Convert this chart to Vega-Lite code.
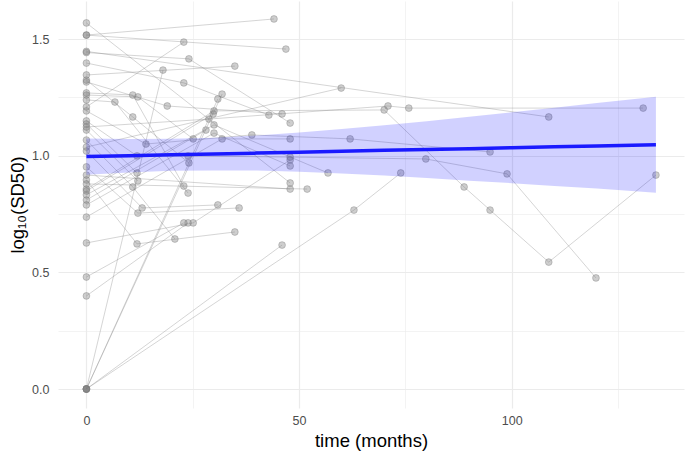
{
  "$schema": "https://vega.github.io/schema/vega-lite/v6.json",
  "width": 626,
  "height": 407,
  "autosize": {"type": "none"},
  "padding": {"left": 58, "top": 1, "right": 1, "bottom": 43},
  "background": "white",
  "config": {
    "view": {"stroke": null},
    "font": "Liberation Sans",
    "axis": {
      "domain": false,
      "ticks": false,
      "tickSize": 0,
      "labelFont": "Liberation Sans",
      "labelFontSize": 12.5,
      "labelColor": "#4d4d4d",
      "titleFont": "Liberation Sans",
      "titleFontSize": 18.5,
      "titleFontWeight": "normal",
      "titleColor": "#000000",
      "gridColor": "#ebebeb"
    }
  },
  "datasets": {
    "obs": [
      {"id": 1, "t": 0, "y": 1.569}, {"id": 1, "t": 47.9, "y": 0.883},
      {"id": 2, "t": 0, "y": 1.517}, {"id": 2, "t": 44.1, "y": 1.586},
      {"id": 3, "t": 0, "y": 1.517}, {"id": 3, "t": 46.9, "y": 1.457},
      {"id": 4, "t": 0, "y": 1.447}, {"id": 4, "t": 108.7, "y": 1.166},
      {"id": 5, "t": 0, "y": 1.442}, {"id": 5, "t": 24.1, "y": 1.415}, {"id": 5, "t": 47.9, "y": 1.14},
      {"id": 6, "t": 0, "y": 1.397}, {"id": 6, "t": 22.9, "y": 1.312}, {"id": 6, "t": 42.9, "y": 1.174},
      {"id": 7, "t": 0, "y": 1.346}, {"id": 7, "t": 34.9, "y": 1.384},
      {"id": 8, "t": 0, "y": 1.324}, {"id": 8, "t": 10.9, "y": 1.166}, {"id": 8, "t": 24.1, "y": 0.969},
      {"id": 9, "t": 0, "y": 1.316}, {"id": 9, "t": 19.0, "y": 1.213}, {"id": 9, "t": 46.0, "y": 1.179},
      {"id": 10, "t": 0, "y": 1.269}, {"id": 10, "t": 10.9, "y": 1.26}, {"id": 10, "t": 22.9, "y": 0.87},
      {"id": 11, "t": 0, "y": 1.26}, {"id": 11, "t": 12.1, "y": 1.252}, {"id": 11, "t": 25.1, "y": 1.072},
      {"id": 12, "t": 0, "y": 1.239}, {"id": 12, "t": 6.7, "y": 1.23}, {"id": 12, "t": 23.9, "y": 0.84},
      {"id": 13, "t": 0, "y": 1.209}, {"id": 13, "t": 22.9, "y": 1.487},
      {"id": 14, "t": 0, "y": 1.192}, {"id": 14, "t": 14.0, "y": 1.05}, {"id": 14, "t": 38.9, "y": 1.089}, {"id": 14, "t": 62.0, "y": 1.072}, {"id": 14, "t": 94.9, "y": 1.016},
      {"id": 15, "t": 0, "y": 1.149}, {"id": 15, "t": 11.9, "y": 0.999}, {"id": 15, "t": 23.9, "y": 0.999}, {"id": 15, "t": 47.9, "y": 0.994}, {"id": 15, "t": 79.8, "y": 0.986}, {"id": 15, "t": 98.9, "y": 0.922}, {"id": 15, "t": 119.8, "y": 0.476},
      {"id": 16, "t": 0, "y": 1.136}, {"id": 16, "t": 11.9, "y": 0.926},
      {"id": 17, "t": 0, "y": 1.123}, {"id": 17, "t": 28.8, "y": 1.157}, {"id": 17, "t": 70.9, "y": 1.213}, {"id": 17, "t": 75.8, "y": 1.204}, {"id": 17, "t": 130.9, "y": 1.204},
      {"id": 18, "t": 0, "y": 1.11}, {"id": 18, "t": 12.1, "y": 0.892},
      {"id": 19, "t": 0, "y": 1.067}, {"id": 19, "t": 10.9, "y": 0.866}, {"id": 19, "t": 20.8, "y": 0.643},
      {"id": 20, "t": 0, "y": 1.037}, {"id": 20, "t": 59.9, "y": 1.29},
      {"id": 21, "t": 0, "y": 1.02}, {"id": 21, "t": 13.1, "y": 0.776}, {"id": 21, "t": 30.9, "y": 0.789},
      {"id": 22, "t": 0, "y": 0.952}, {"id": 22, "t": 12.1, "y": 0.754}, {"id": 22, "t": 35.9, "y": 0.776},
      {"id": 23, "t": 0, "y": 0.917}, {"id": 23, "t": 47.9, "y": 0.857},
      {"id": 24, "t": 0, "y": 0.896}, {"id": 24, "t": 11.9, "y": 0.622}, {"id": 24, "t": 34.9, "y": 0.673},
      {"id": 25, "t": 0, "y": 0.879}, {"id": 25, "t": 51.9, "y": 0.857},
      {"id": 26, "t": 0, "y": 0.857}, {"id": 26, "t": 30.0, "y": 1.192}, {"id": 26, "t": 70.0, "y": 1.196}, {"id": 26, "t": 88.8, "y": 0.866}, {"id": 26, "t": 94.9, "y": 0.767}, {"id": 26, "t": 108.7, "y": 0.544}, {"id": 26, "t": 133.9, "y": 0.917},
      {"id": 27, "t": 0, "y": 0.849}, {"id": 27, "t": 29.8, "y": 1.179},
      {"id": 28, "t": 0, "y": 0.832}, {"id": 28, "t": 30.0, "y": 1.132}, {"id": 28, "t": 56.8, "y": 0.926},
      {"id": 29, "t": 0, "y": 0.81}, {"id": 29, "t": 28.1, "y": 1.11},
      {"id": 30, "t": 0, "y": 0.789}, {"id": 30, "t": 30.0, "y": 1.097}, {"id": 30, "t": 47.9, "y": 0.956},
      {"id": 31, "t": 0, "y": 0.737}, {"id": 31, "t": 31.9, "y": 1.072}, {"id": 31, "t": 47.9, "y": 1.072},
      {"id": 32, "t": 0, "y": 0.626}, {"id": 32, "t": 25.1, "y": 0.712}, {"id": 32, "t": 47.9, "y": 0.982},
      {"id": 33, "t": 0, "y": 0.48}, {"id": 33, "t": 22.9, "y": 0.712},
      {"id": 34, "t": 0, "y": 0.399}, {"id": 34, "t": 23.9, "y": 0.712},
      {"id": 35, "t": 0, "y": 0}, {"id": 35, "t": 18.0, "y": 1.367},
      {"id": 36, "t": 0, "y": 0}, {"id": 36, "t": 31.9, "y": 1.264},
      {"id": 37, "t": 0, "y": 0}, {"id": 37, "t": 30.9, "y": 1.243},
      {"id": 38, "t": 0, "y": 0}, {"id": 38, "t": 46.0, "y": 0.617},
      {"id": 39, "t": 0, "y": 0}, {"id": 39, "t": 62.9, "y": 0.767}, {"id": 39, "t": 73.9, "y": 0.926}
    ],
    "fit": [
      {"t": 0, "fit": 0.996, "lo": 0.918, "hi": 1.074},
      {"t": 10, "fit": 1.0, "lo": 0.928, "hi": 1.071},
      {"t": 20, "fit": 1.004, "lo": 0.935, "hi": 1.073},
      {"t": 30, "fit": 1.007, "lo": 0.937, "hi": 1.077},
      {"t": 40, "fit": 1.011, "lo": 0.936, "hi": 1.087},
      {"t": 50, "fit": 1.015, "lo": 0.931, "hi": 1.099},
      {"t": 60, "fit": 1.019, "lo": 0.924, "hi": 1.114},
      {"t": 70, "fit": 1.023, "lo": 0.915, "hi": 1.131},
      {"t": 80, "fit": 1.026, "lo": 0.904, "hi": 1.148},
      {"t": 90, "fit": 1.03, "lo": 0.893, "hi": 1.167},
      {"t": 100, "fit": 1.034, "lo": 0.882, "hi": 1.186},
      {"t": 110, "fit": 1.038, "lo": 0.87, "hi": 1.206},
      {"t": 120, "fit": 1.042, "lo": 0.859, "hi": 1.226},
      {"t": 133.9, "fit": 1.047, "lo": 0.841, "hi": 1.253}
    ]
  },
  "encoding": {
    "x": {
      "field": "t",
      "type": "quantitative",
      "title": "time (months)",
      "scale": {"domain": [-6.68, 140.5], "nice": false, "zero": false},
      "axis": {
        "values": [0, 25, 50, 75, 100, 125],
        "labelExpr": "datum.value % 50 === 0 ? datum.label : ''",
        "gridWidth": {"condition": {"test": "datum.value % 50 === 0", "value": 1.2}, "value": 0.6},
        "labelPadding": 6,
        "titlePadding": 5
      }
    }
  },
  "layer": [
    {
      "data": {"name": "obs"},
      "mark": {"type": "line", "stroke": "#808080", "strokeOpacity": 0.42, "strokeWidth": 0.8},
      "encoding": {
        "y": {
          "field": "y",
          "type": "quantitative",
          "title": "log₁₀(SD50)",
          "scale": {"domain": [-0.0814, 1.663], "nice": false, "zero": false},
          "axis": {
            "values": [0, 0.25, 0.5, 0.75, 1, 1.25, 1.5],
            "format": ".1f",
            "labelExpr": "(datum.value * 4) % 2 === 0 ? datum.label : ''",
            "gridWidth": {"condition": {"test": "(datum.value * 4) % 2 === 0", "value": 1.2}, "value": 0.6},
            "labelPadding": 9,
            "titlePadding": 4
          }
        },
        "detail": {"field": "id", "type": "nominal"},
        "order": {"field": "t", "type": "quantitative"}
      }
    },
    {
      "data": {"name": "obs"},
      "mark": {"type": "point", "filled": true, "size": 46, "fill": "#7f7f7f", "stroke": "#7f7f7f", "fillOpacity": 0.38, "strokeOpacity": 0.45, "strokeWidth": 0.9},
      "encoding": {
        "y": {"field": "y", "type": "quantitative", "title": "log₁₀(SD50)", "scale": {"domain": [-0.0814, 1.663], "nice": false, "zero": false}}
      }
    },
    {
      "data": {"name": "fit"},
      "mark": {"type": "area", "fill": "#0000ff", "fillOpacity": 0.18},
      "encoding": {
        "y": {"field": "lo", "type": "quantitative", "title": "log₁₀(SD50)", "scale": {"domain": [-0.0814, 1.663], "nice": false, "zero": false}},
        "y2": {"field": "hi"}
      }
    },
    {
      "data": {"name": "fit"},
      "mark": {"type": "line", "stroke": "#1a1aff", "strokeWidth": 3.5},
      "encoding": {
        "y": {"field": "fit", "type": "quantitative", "title": "log₁₀(SD50)", "scale": {"domain": [-0.0814, 1.663], "nice": false, "zero": false}}
      }
    }
  ]
}
